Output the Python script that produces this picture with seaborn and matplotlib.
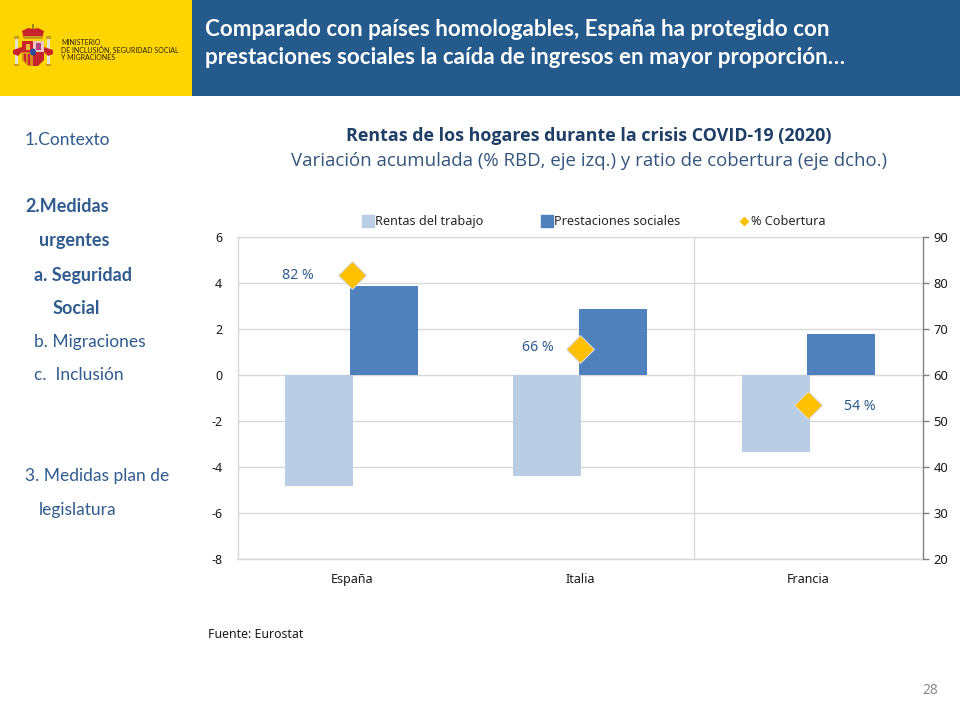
import matplotlib
matplotlib.use("Agg")
import matplotlib.pyplot as plt
from matplotlib.lines import Line2D
from matplotlib.patches import Rectangle, Polygon, Ellipse
import pandas as pd
import seaborn as sns

# ── DATA ──
paises       = ["España", "Italia", "Francia"]
trabajo      = [-4.81, -4.39, -3.35]
prestaciones = [3.87, 2.87, 1.78]
cobertura    = [81.8, 65.7, 53.6]
etiquetas    = ["82 %", "66 %", "54 %"]
yticks_izq   = [6, 4, 2, 0, -2, -4, -6, -8]
yticks_dcha  = [90, 80, 70, 60, 50, 40, 30, 20]
menu_textos  = ["1.Contexto", "2.Medidas", "urgentes", "a. Seguridad", "Social",
                "b. Migraciones", "c.  Inclusión", "3. Medidas plan de", "legislatura"]
menu_negrita = [False, True, True, True, True, False, False, False, False]

# ── LAYOUT ──
menu_x = [25, 25, 39, 34, 53, 34, 34, 25, 39]
menu_y = [140, 207, 241, 275, 308, 342, 375, 476, 510]
desplaz = [(-54, 0), (-42, 2), (51, -2)]   # label offset from the diamond, px

# ── COLOURS ──
AMARILLO = "#ffd500"
AZUL_BANDA = "#245a8c"
AZUL_TEXTO = "#2f5b8f"
CLARO = "#b9cde5"
OSCURO = "#4f81bd"
ROMBO = "#ffc000"
GRID = "#d9d9d9"

W, H = 960, 720
sns.set_theme(style="white")
plt.rcParams["font.family"] = ["Open Sans", "DejaVu Sans"]
plt.rcParams["axes.unicode_minus"] = False

fig = plt.figure(figsize=(9.6, 7.2), dpi=100, facecolor="white")

def fx(px): return px / W
def fy(py): return 1 - py / H

# ── HEADER ──
fig.add_artist(Rectangle((0, fy(96)), fx(192), 96 / H, color=AMARILLO, lw=0, transform=fig.transFigure))
fig.add_artist(Rectangle((fx(192), fy(96)), fx(768), 96 / H, color=AZUL_BANDA, lw=0, transform=fig.transFigure))
fig.text(fx(205), fy(29), "Comparado con países homologables, España ha protegido con",
         color="white", fontsize=16.1, fontweight="bold", va="center", family="Lato")
fig.text(fx(205), fy(57.5), "prestaciones sociales la caída de ingresos en mayor proporción…",
         color="white", fontsize=16.1, fontweight="bold", va="center", family="Lato")

# logo, rough shapes
def poly(pts, color):
    fig.add_artist(Polygon([(fx(x), fy(y)) for x, y in pts], closed=True, color=color,
                           transform=fig.transFigure, lw=0))
poly([(22, 41), (33, 41), (33, 66), (28, 66), (22, 60)], "#d98a1e")
poly([(22, 41), (33, 41), (33, 52), (22, 52)], "#c8242b")
poly([(33, 41), (44, 41), (44, 52), (33, 52)], "#eec6c8")
poly([(33, 52), (44, 52), (44, 60), (38, 66), (33, 66)], "#c8242b")
poly([(24, 54), (26, 54), (26, 63), (24, 60)], "#c8242b")
poly([(28, 54), (30, 54), (30, 65), (28, 65)], "#c8242b")
poly([(26, 44), (30, 44), (30, 50), (26, 50)], "#e8b83a")
poly([(36, 43), (41, 43), (41, 50), (36, 50)], "#b0457a")
poly([(22, 31), (28, 28), (33, 29), (38, 28), (44, 31), (42, 39), (24, 39)], "#c8242b")
poly([(24, 36), (42, 36), (42, 39), (24, 39)], "#c89a1e")
poly([(32, 24), (34, 24), (34, 29), (32, 29)], "#9c8420")
poly([(15, 39), (18, 39), (18, 65), (15, 65)], "#e6e2d0")
poly([(47, 39), (50, 39), (50, 65), (47, 65)], "#e6e2d0")
poly([(14, 36), (19, 36), (19, 39), (14, 39)], "#c89a1e")
poly([(46, 36), (51, 36), (51, 39), (46, 39)], "#c89a1e")
poly([(14, 64), (19, 64), (19, 66), (14, 66)], "#c89a1e")
poly([(46, 64), (51, 64), (51, 66), (46, 66)], "#c89a1e")
poly([(13, 50), (22, 47), (22, 52), (18, 56), (13, 54)], "#c8242b")
poly([(44, 47), (53, 50), (53, 54), (48, 56), (44, 52)], "#c8242b")
fig.add_artist(Ellipse((fx(33), fy(52)), 6 / W, 7 / H, color="#2b4d9b", lw=0, transform=fig.transFigure))
logo_y = [42.5, 50, 58]
for linea, y in zip(["MINISTERIO", "DE INCLUSIÓN, SEGURIDAD SOCIAL", "Y MIGRACIONES"], logo_y):
    fig.text(fx(61), fy(y), linea, fontsize=5.0, color="#2a2400", va="center", family="Lato")

# ── SIDE MENU ──
for txt, x, y, negrita in zip(menu_textos, menu_x, menu_y, menu_negrita):
    fig.text(fx(x), fy(y), txt, color=AZUL_TEXTO, fontsize=13 if negrita else 12.5, va="center",
             fontweight="bold" if negrita else "normal", family="Lato")

# ── TITLES ──
fig.text(fx(589), fy(136), "Rentas de los hogares durante la crisis COVID-19 (2020)",
         color="#1f3f66", fontsize=12.85, fontweight="bold", ha="center", va="center", family="Open Sans")
fig.text(fx(589), fy(161), "Variación acumulada (% RBD, eje izq.) y ratio de cobertura (eje dcho.)",
         color="#34557c", fontsize=13.4, ha="center", va="center", family="Open Sans")

# ── CHART ──
ax = fig.add_axes([fx(237.5), fy(559.3), fx(685), 322 / H])
df = pd.DataFrame({
    "pais": paises * 2,
    "valor": trabajo + prestaciones,
    "serie": ["Rentas del trabajo"] * 3 + ["Prestaciones sociales"] * 3,
})
sns.barplot(data=df, x="pais", y="valor", hue="serie", ax=ax, width=0.57, gap=0,
            palette=[CLARO, OSCURO], saturation=1, legend=False, linewidth=0, errorbar=None)
# the bars overlap slightly in the original
for p in ax.patches:
    c = p.get_x() + p.get_width() / 2
    p.set_width(0.298)
    p.set_x(c - 0.149)
    p.set_zorder(3)

ax.set_xlim(-0.5, 2.5)
ax.set_ylim(-8, 6)
ax.set_yticks(yticks_izq)
ax.set_xlabel("")
ax.set_ylabel("")
ax.grid(axis="y", color=GRID, lw=1)
ax.axvline(1.5, color=GRID, lw=1)
ax.set_axisbelow(True)
for s in ax.spines.values():
    s.set_color(GRID)
    s.set_linewidth(1)
ax.spines["right"].set_visible(False)
ax.tick_params(axis="both", length=0, labelsize=9, labelcolor="#1a1a1a")
ax.tick_params(axis="x", pad=10)
ax.tick_params(axis="y", pad=11)
for t in ax.get_xticklabels() + ax.get_yticklabels():
    t.set_family("Noto Sans")

ax2 = ax.twinx()
sns.scatterplot(x=[0, 1, 2], y=cobertura, ax=ax2, marker="D", s=200, color=ROMBO,
                edgecolor="#d9d9d9", linewidth=0.8, zorder=5, legend=False)
ax2.set_ylim(20, 90)
ax2.set_yticks(yticks_dcha)
ax2.set_xlim(-0.5, 2.5)
ax2.set_ylabel("")
for s in ["top", "left", "bottom"]:
    ax2.spines[s].set_visible(False)
ax2.spines["right"].set_color("#808080")
ax2.spines["right"].set_linewidth(1)
ax2.tick_params(axis="y", length=4, width=1, color="#808080", labelsize=9.3, labelcolor="#1a1a1a", pad=4)
for t in ax2.get_yticklabels():
    t.set_family("Noto Sans")

for i, (e, d) in enumerate(zip(etiquetas, desplaz)):
    ax2.annotate(e, (i, cobertura[i]), xytext=(d[0] * 0.72, d[1] * 0.72), textcoords="offset points",
                 ha="center", va="center", fontsize=10.2, color=AZUL_TEXTO, family="Noto Sans")

# ── LEGEND ──
handles = [
    Line2D([], [], marker="s", ls="", ms=8.5, color=CLARO, label="Rentas del trabajo"),
    Line2D([], [], marker="s", ls="", ms=8.5, color=OSCURO, label="Prestaciones sociales"),
    Line2D([], [], marker="D", ls="", ms=4.5, color=ROMBO, label="% Cobertura"),
]
fig.legend(handles=handles, loc="center", bbox_to_anchor=(fx(593.5), fy(221.5)), ncol=3, frameon=False,
           columnspacing=4.55, handlelength=1, handletextpad=0.05, borderpad=0,
           prop={"family": "Noto Sans", "size": 9.1})

# ── FOOTER ──
fig.text(fx(208), fy(634), "Fuente: Eurostat", fontsize=8.85, color="#1a1a1a", va="center", family="Noto Sans")
fig.text(fx(930), fy(690), "28", fontsize=10, color="#8c8c8c", ha="center", va="center", family="Noto Sans")

fig.savefig("out.png", dpi=100)
